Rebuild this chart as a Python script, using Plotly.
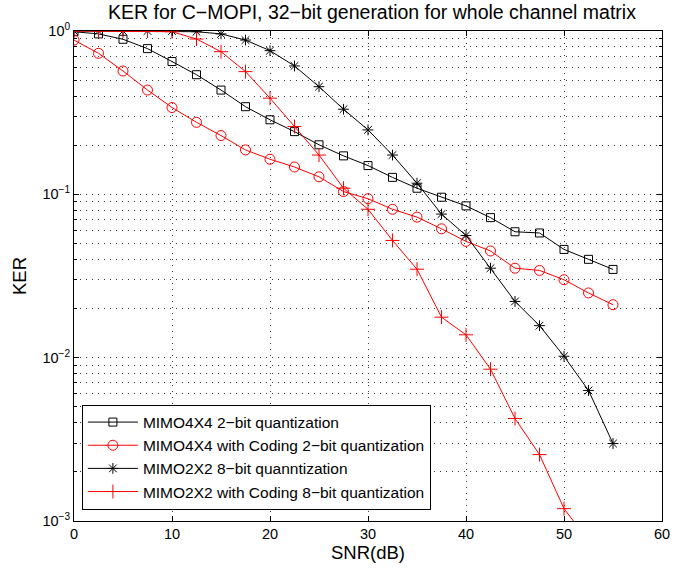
import plotly.graph_objects as go

# SNR sweep points (dB)
snr = [0, 2.5, 5, 7.5, 10, 12.5, 15, 17.5, 20, 22.5, 25, 27.5,
       30, 32.5, 35, 37.5, 40, 42.5, 45, 47.5, 50, 52.5, 55]

# Key error rate for each configuration
ker_4x4_2bit = [0.99, 0.96, 0.89, 0.78, 0.65, 0.54, 0.435, 0.344, 0.286, 0.242, 0.201, 0.172,
                0.150, 0.127, 0.109, 0.096, 0.085, 0.072, 0.059, 0.058, 0.046, 0.040, 0.0347]
ker_4x4_coding_2bit = [0.88, 0.73, 0.569, 0.435, 0.34, 0.276, 0.229, 0.187, 0.164, 0.147, 0.128, 0.104,
                       0.094, 0.081, 0.0725, 0.0615, 0.0515, 0.045, 0.0353, 0.0342, 0.030, 0.0249, 0.0211]
ker_2x2_8bit = [1.0, 1.0, 1.0, 1.0, 1.0, 0.99, 0.96, 0.88, 0.758, 0.611, 0.456, 0.332,
                0.248, 0.174, 0.117, 0.0757, 0.056, 0.0353, 0.0221, 0.0157, 0.0102, 0.0063, 0.00298]
ker_2x2_coding_8bit = [1.0, 1.0, 1.0, 1.0, 0.99, 0.893, 0.747, 0.564, 0.388, 0.26, 0.174, 0.109,
                       0.081, 0.0522, 0.0348, 0.0177, 0.0138, 0.0085, 0.00424, 0.00255, 0.00119, 0.00076, 0.0004]

series = [
    ("MIMO4X4 2−bit quantization", ker_4x4_2bit, "black", "square-open", 8),
    ("MIMO4X4 with Coding 2−bit quantization", ker_4x4_coding_2bit, "red", "circle-open", 10),
    ("MIMO2X2 8−bit quanntization", ker_2x2_8bit, "black", "asterisk-open", 9),
    ("MIMO2X2 with Coding 8−bit quantization", ker_2x2_coding_8bit, "red", "cross-thin-open", 10),
]

font_family = "Liberation Sans, Arial, sans-serif"

fig = go.Figure()
for name, vals, color, symbol, size in series:
    fig.add_trace(go.Scatter(
        x=snr, y=vals, name=name, mode="lines+markers",
        line=dict(color=color, width=1),
        marker=dict(symbol=symbol, size=size, color=color,
                    line=dict(color=color, width=1)),
        cliponaxis=True,
    ))

# log-decade ticks and the 2..9 minor grid within each decade
decades = [1e-3, 1e-2, 1e-1, 1e0]
decade_text = ["10<sup>−3</sup>", "10<sup>−2</sup>", "10<sup>−1</sup>", "10<sup>0</sup>"]
minor_vals = [m * d for d in decades[:-1] for m in range(2, 10)]

dotted = "1px,5px"
grid_style = dict(showgrid=True, gridcolor="#3a3a3a", griddash=dotted, gridwidth=1)

fig.update_layout(
    width=680, height=576,
    margin=dict(l=74, r=10, t=31, b=55),
    paper_bgcolor="white", plot_bgcolor="white",
    font=dict(family=font_family, size=14.5, color="black"),
    title=dict(text="KER for C−MOPI, 32−bit generation for whole channel matrix",
               x=(74 + 670) / 2 / 680, xanchor="center", y=1 - 12 / 576, yanchor="middle",
               font=dict(size=19.5)),
    xaxis=dict(
        range=[0, 60], tickvals=[0, 10, 20, 30, 40, 50, 60],
        ticks="inside", ticklen=5, tickcolor="black",
        showline=True, linecolor="black", linewidth=1, mirror="allticks",
        zeroline=False,
        title=dict(text="SNR(dB)", font=dict(size=18.5), standoff=2),
        **grid_style,
    ),
    yaxis=dict(
        type="log", range=[-3, 0],
        tickvals=decades, ticktext=decade_text,
        ticks="inside", ticklen=5, tickcolor="black",
        showline=True, linecolor="black", linewidth=1, mirror="allticks",
        zeroline=False,
        title=dict(text="KER", font=dict(size=18.5), standoff=10),
        minor=dict(tickvals=minor_vals, ticks="inside", ticklen=3, tickcolor="black",
                   showgrid=True, gridcolor="#3a3a3a", griddash=dotted, gridwidth=1),
        **grid_style,
    ),
    legend=dict(
        x=(82 - 74) / 596, y=(521.5 - 510) / 490.5, xanchor="left", yanchor="bottom",
        bgcolor="white", bordercolor="black", borderwidth=1,
        font=dict(size=15.5), tracegroupgap=0, itemwidth=50,
    ),
    showlegend=True,
)

fig.write_html("out.html")
